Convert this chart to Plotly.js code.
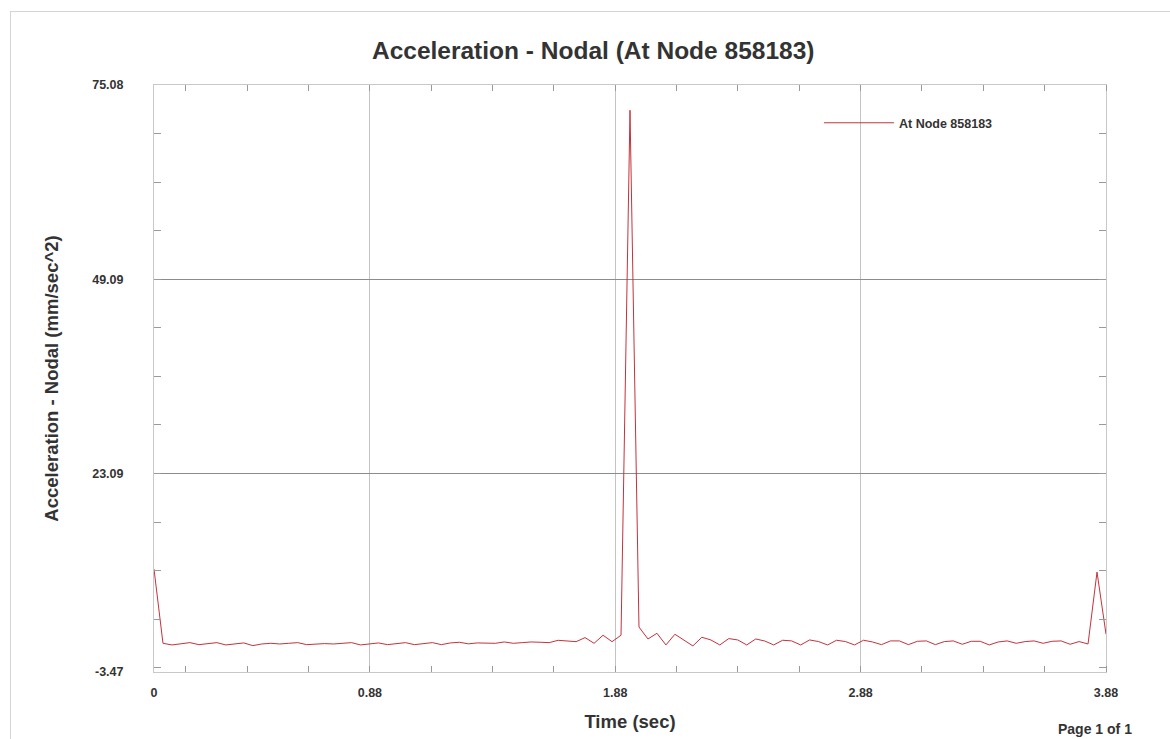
<!DOCTYPE html>
<html>
<head>
<meta charset="utf-8">
<script src="https://cdn.plot.ly/plotly-3.0.1.min.js"></script>
<style>
  html, body { margin: 0; padding: 0; background: #ffffff; }
  #wrap { position: relative; width: 1170px; height: 739px; overflow: hidden; }
  #chart { position: absolute; left: 0; top: 0; width: 1170px; height: 739px; }
  #frame { position: absolute; left: 10px; top: 11px; width: 1200px; height: 800px;
           border-top: 1px solid #d4d4d4; border-left: 1px solid #d4d4d4; pointer-events: none; }
</style>
</head>
<body>
<div id="wrap">
  <div id="chart"></div>
  <div id="frame"></div>
</div>
<script>
// Nodal acceleration history, sampled at a fixed time step
const timeStart = 0;
const timeEnd = 3.88;
const sampleCount = 107;
const timeStep = (timeEnd - timeStart) / (sampleCount - 1);

const accel = [
  10.3, 0.37, 0.15, 0.33, 0.46, 0.19, 0.33, 0.46, 0.15, 0.33,
  0.42, 0.06, 0.28, 0.37, 0.28, 0.37, 0.46, 0.19, 0.28, 0.33,
  0.28, 0.37, 0.46, 0.15, 0.33, 0.42, 0.19, 0.33, 0.46, 0.19,
  0.33, 0.46, 0.19, 0.42, 0.51, 0.30, 0.42, 0.37, 0.37, 0.55,
  0.37, 0.46, 0.55, 0.51, 0.46, 0.77, 0.64, 0.59, 1.13, 0.37,
  1.45, 0.59, 1.45, 71.7, 2.55, 0.95, 1.71, 0.15, 1.58, 0.82,
  0.02, 1.18, 0.82, 0.15, 1.00, 0.82, 0.15, 0.95, 0.68, 0.15,
  0.78, 0.69, 0.15, 0.82, 0.60, 0.15, 0.78, 0.60, 0.15, 0.78,
  0.55, 0.19, 0.69, 0.69, 0.19, 0.64, 0.69, 0.19, 0.60, 0.69,
  0.24, 0.64, 0.64, 0.15, 0.55, 0.69, 0.37, 0.60, 0.69, 0.37,
  0.64, 0.69, 0.24, 0.60, 0.28, 9.9, 1.6
];

const xTicks = [0, 0.88, 1.88, 2.88, 3.88];
const xTickText = ['0', '0.88', '1.88', '2.88', '3.88'];
const yTicks = [-3.47, 23.09, 49.09, 75.08];
const yTickText = ['-3.47', '23.09', '49.09', '75.08'];

const seriesName = 'At Node 858183';
const chartTitle = 'Acceleration - Nodal (At Node 858183)';
const xTitle = 'Time (sec)';
const yTitle = 'Acceleration - Nodal (mm/sec^2)';

const FONT = 'Liberation Sans, Arial, sans-serif';
const TEXT = '#333333';
const TICK_GRAY = '#9a9a9a';

const xMinor = { tick0: 0.13, dtick: 0.25, ticks: 'inside', ticklen: 6, tickcolor: TICK_GRAY, showgrid: false };
const yMinor = { tick0: 3.59, dtick: 6.5, ticks: 'inside', ticklen: 7, tickcolor: TICK_GRAY, showgrid: false };

const trace = {
  type: 'scatter',
  mode: 'lines',
  name: seriesName,
  x0: timeStart,
  dx: timeStep,
  y: accel,
  line: { color: '#c4323c', width: 1 },
  showlegend: true
};

// empty companion trace so the top and right tick axes get drawn
const frameTrace = {
  type: 'scatter', mode: 'lines', x: [], y: [],
  xaxis: 'x2', yaxis: 'y2', showlegend: false, hoverinfo: 'skip'
};

const tickFont = { family: FONT, size: 12.5, weight: 700, color: TEXT };

const layout = {
  width: 1170,
  height: 739,
  margin: { l: 154, r: 64, t: 85, b: 67 },
  paper_bgcolor: '#ffffff',
  plot_bgcolor: '#ffffff',
  font: { family: FONT, color: TEXT },
  title: {
    text: chartTitle,
    x: 0.507, xref: 'container', xanchor: 'center',
    y: 0.932, yref: 'container', yanchor: 'middle',
    font: { family: FONT, size: 24.5, weight: 700, color: TEXT }
  },
  xaxis: {
    range: [timeStart, timeEnd],
    tickmode: 'array',
    tickvals: xTicks,
    ticktext: xTickText,
    ticks: '',
    tickfont: tickFont,
    ticklabelstandoff: 9,
    showgrid: true,
    gridcolor: '#c4c4c4',
    gridwidth: 1,
    showline: true,
    linecolor: '#c8c8c8',
    linewidth: 1,
    mirror: true,
    zeroline: false,
    minor: xMinor,
    title: { text: xTitle, standoff: 16, font: { family: FONT, size: 18.5, weight: 700, color: TEXT } }
  },
  yaxis: {
    range: [-3.47, 75.08],
    tickmode: 'array',
    tickvals: yTicks,
    ticktext: yTickText,
    ticks: '',
    tickfont: tickFont,
    ticklabelstandoff: 27,
    showgrid: true,
    gridcolor: '#8c8c8c',
    gridwidth: 1,
    showline: true,
    linecolor: '#c8c8c8',
    linewidth: 1,
    mirror: true,
    zeroline: false,
    minor: yMinor,
    title: { text: yTitle, standoff: 28, font: { family: FONT, size: 18.5, weight: 700, color: TEXT } }
  },
  xaxis2: {
    overlaying: 'x', side: 'top', anchor: 'y2', matches: 'x',
    range: [timeStart, timeEnd],
    tickmode: 'array', tickvals: xTicks, ticks: '',
    showticklabels: false, showgrid: false, showline: false, zeroline: false,
    minor: xMinor
  },
  yaxis2: {
    overlaying: 'y', side: 'right', anchor: 'x2', matches: 'y',
    range: [-3.47, 75.08],
    tickmode: 'array', tickvals: yTicks, ticks: '',
    showticklabels: false, showgrid: false, showline: false, zeroline: false,
    minor: yMinor
  },
  showlegend: true,
  legend: {
    x: 0.6985, y: 0.935, xanchor: 'left', yanchor: 'middle',
    bgcolor: 'rgba(0,0,0,0)',
    borderwidth: 0,
    itemwidth: 70,
    font: { family: FONT, size: 12.5, weight: 700, color: TEXT }
  },
  annotations: [
    {
      text: 'Page 1 of 1',
      xref: 'paper', yref: 'paper',
      x: 1.029, y: -0.097, xanchor: 'right', yanchor: 'middle',
      showarrow: false,
      font: { family: FONT, size: 14, weight: 700, color: TEXT }
    }
  ]
};

Plotly.newPlot('chart', [trace, frameTrace], layout, { displayModeBar: false, staticPlot: true });
</script>
</body>
</html>
